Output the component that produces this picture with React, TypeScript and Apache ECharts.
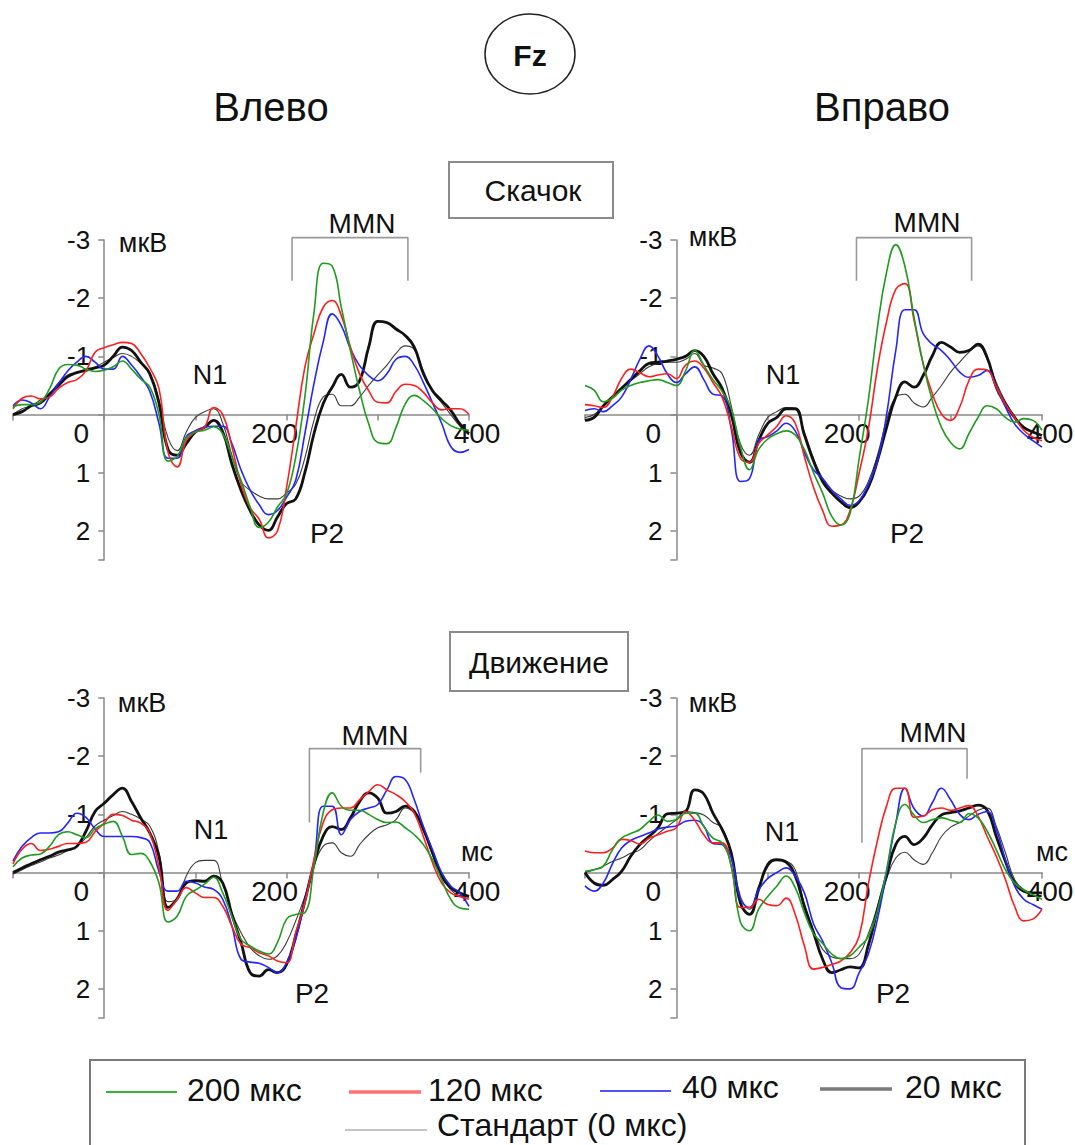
import React, { useEffect, useRef } from "react";
import * as echarts from "echarts";

// Time axis of the averaged ERPs, ms (every 10 ms)
const TIMES = [
  -100, -90, -80, -70, -60, -50, -40, -30, -20, -10,
  0, 10, 20, 30, 40, 50, 60, 70, 80, 90,
  100, 110, 120, 130, 140, 150, 160, 170, 180, 190,
  200, 210, 220, 230, 240, 250, 260, 270, 280, 290,
  300, 310, 320, 330, 340, 350, 360, 370, 380, 390,
  400,
];

const CONDITIONS = ["200 мкс", "120 мкс", "40 мкс", "20 мкс", "Стандарт (0 мкс)"];

// Скачок, Влево (µV)
const JUMP_LEFT_200 = [
  -0.13, -0.17, -0.17, -0.21, -0.44, -0.78, -0.86, -0.85, -0.78, -0.74,
  -0.76, -0.82, -0.92, -0.78, -0.61, -0.47, 0.0, 0.8, 0.72, 0.4,
  0.3, 0.27, 0.21, 0.33, 0.73, 1.13, 1.59, 1.94, 1.85, 1.59,
  1.36, 0.73, -0.3, -1.75, -2.6, -2.55, -1.84, -1.1, -0.41, 0.16,
  0.48, 0.5, 0.22, -0.18, -0.33, -0.24, -0.1, 0.07, 0.19, 0.25,
  0.27,
];
const JUMP_LEFT_120 = [
  -0.1, -0.28, -0.32, -0.27, -0.3, -0.45, -0.55, -0.6, -0.75, -1.07,
  -1.15, -1.2, -1.24, -1.22, -1.05, -0.8, -0.45, 0.65, 0.9, 0.45,
  0.3, 0.22, -0.12, 0.0, 0.55, 1.2, 1.6, 1.8, 2.12, 2.0,
  1.25, 0.22, -0.81, -1.39, -1.84, -1.96, -1.7, -1.16, -0.7, -0.41,
  -0.21, -0.2, -0.4, -0.52, -0.5, -0.38, -0.2, -0.08, -0.1, -0.1,
  0.0,
];
const JUMP_LEFT_40 = [
  -0.15, -0.25, -0.2, -0.1, -0.3, -0.53, -0.75, -0.9, -1.0, -0.9,
  -0.78, -0.78, -1.0, -0.85, -0.65, -0.4, 0.15, 0.75, 0.75, 0.38,
  0.28, 0.22, 0.2, 0.2, 0.5, 0.95, 1.3, 1.55, 1.72, 1.65,
  1.42, 1.13, 0.33, -0.53, -1.24, -1.73, -1.53, -1.13, -0.84, -0.67,
  -0.58, -0.7, -0.95, -1.0, -0.85, -0.55, -0.2, 0.15, 0.55, 0.65,
  0.6,
];
const JUMP_LEFT_20 = [
  0.0, -0.05, -0.15, -0.2, -0.35, -0.5, -0.65, -0.72, -0.76, -0.8,
  -0.85, -1.0, -1.16, -1.1, -0.9, -0.7, -0.2, 0.6, 0.7, 0.5,
  0.3, 0.22, 0.1, 0.3, 0.85, 1.3, 1.65, 1.9, 1.99, 1.76,
  1.53, 1.45, 1.0, 0.33, -0.18, -0.47, -0.69, -0.47, -0.58, -1.16,
  -1.6, -1.58, -1.47, -1.36, -1.16, -0.7, -0.41, -0.24, -0.07, 0.16,
  0.33,
];
const JUMP_LEFT_0 = [
  0.0, -0.1, -0.15, -0.25, -0.35, -0.55, -0.68, -0.72, -0.78, -0.82,
  -0.9, -0.98, -1.05, -1.0, -0.88, -0.72, -0.25, 0.4, 0.62, 0.3,
  0.05, -0.05, -0.1, 0.15, 0.7, 1.15, 1.3, 1.4, 1.45, 1.45,
  1.35, 1.2, 0.75, 0.1, -0.3, -0.35, -0.15, -0.15, -0.3, -0.5,
  -0.68, -0.85, -1.05, -1.18, -1.12, -0.75, -0.4, -0.2, 0.0, 0.2,
  0.35,
];

// Скачок, Вправо (µV)
const JUMP_RIGHT_200 = [
  -0.5, -0.42, -0.22, -0.28, -0.42, -0.5, -0.55, -0.58, -0.6, -0.55,
  -0.5, -0.75, -1.1, -0.85, -0.6, -0.4, -0.1, 0.55, 0.95, 0.6,
  0.42, 0.33, 0.28, 0.35, 0.6, 1.0, 1.35, 1.75, 1.9, 1.7,
  0.75, -0.25, -1.5, -2.45, -2.92, -2.55, -1.67, -0.87, -0.24, 0.22,
  0.48, 0.59, 0.33, 0.05, -0.15, -0.1, 0.05, 0.13, 0.07, 0.1,
  0.27,
];
const JUMP_RIGHT_120 = [
  -0.17, -0.15, -0.12, -0.3, -0.62, -0.78, -0.72, -0.65, -0.68, -0.7,
  -0.62, -0.85, -0.92, -0.8, -0.55, -0.3, 0.2, 0.75, 0.82, 0.5,
  0.35, 0.2, 0.02, 0.15, 0.72, 1.25, 1.65, 1.92, 1.9, 1.65,
  1.0, 0.25, -0.8, -1.6, -2.15, -2.25, -1.62, -0.87, -0.36, -0.01,
  0.1, -0.13, -0.58, -0.78, -0.76, -0.47, -0.18, 0.05, 0.27, 0.39,
  0.45,
];
const JUMP_RIGHT_40 = [
  -0.07, -0.1, -0.05, -0.15, -0.3, -0.6, -0.95, -1.18, -1.0, -0.7,
  -0.55, -0.7, -0.82, -0.6, -0.35, -0.32, 0.25, 1.15, 1.1, 0.45,
  0.38, 0.28, 0.15, 0.28, 0.65, 0.95, 1.1, 1.3, 1.45, 1.56,
  1.48, 1.2, 0.8, 0.0, -1.1, -1.8, -1.8, -1.39, -1.21, -1.1,
  -0.93, -0.73, -0.64, -0.67, -0.76, -0.47, -0.13, 0.16, 0.33, 0.45,
  0.56,
];
const JUMP_RIGHT_20 = [
  0.1, 0.05, -0.15, -0.3, -0.45, -0.6, -0.75, -0.88, -0.9, -0.92,
  -0.95, -1.0, -1.1, -1.0, -0.7, -0.45, 0.0, 0.65, 0.82, 0.45,
  0.15, 0.05, -0.1, -0.1, 0.35, 0.8, 1.15, 1.35, 1.5, 1.6,
  1.5, 1.25, 0.79, 0.22, -0.3, -0.56, -0.47, -0.67, -1.01, -1.24,
  -1.16, -1.07, -1.1, -1.21, -0.98, -0.47, -0.18, 0.05, 0.22, 0.3,
  0.36,
];
const JUMP_RIGHT_0 = [
  0.05, 0.0, -0.15, -0.3, -0.45, -0.58, -0.7, -0.82, -0.88, -0.9,
  -0.9, -0.95, -1.05, -0.85, -0.8, -0.7, -0.15, 0.5, 0.7, 0.35,
  0.05, -0.05, -0.12, -0.1, 0.3, 0.75, 1.1, 1.3, 1.4, 1.45,
  1.4, 1.15, 0.7, 0.1, -0.3, -0.35, -0.2, -0.13, -0.3, -0.5,
  -0.73, -0.9, -1.07, -1.18, -0.95, -0.55, -0.22, 0.03, 0.22, 0.3,
  0.35,
];

// Движение, Влево (µV)
const MOVE_LEFT_200 = [
  -0.1, -0.25, -0.3, -0.32, -0.45, -0.65, -0.7, -0.65, -0.6, -0.75,
  -0.83, -0.88, -0.62, -0.31, -0.33, -0.19, 0.18, 0.85, 0.75, 0.41,
  0.3, 0.2, 0.08, 0.35, 0.75, 1.15, 1.26, 1.35, 1.4, 1.2,
  0.8, 0.72, 0.69, -0.1, -1.02, -1.37, -1.14, -1.07, -1.07, -1.0,
  -0.91, -0.86, -0.87, -0.77, -0.65, -0.48, -0.22, 0.12, 0.46, 0.61,
  0.63,
];
const MOVE_LEFT_120 = [
  -0.15, -0.4, -0.5, -0.38, -0.4, -0.45, -0.5, -0.5, -0.52, -0.7,
  -0.85, -1.0, -0.98, -0.9, -0.85, -0.68, -0.1, 0.65, 0.46, 0.26,
  0.35, 0.43, 0.43, 0.58, 0.92, 1.23, 1.29, 1.38, 1.43, 1.52,
  1.55, 1.03, 0.52, -0.22, -0.85, -1.08, -1.11, -1.11, -1.25, -1.39,
  -1.51, -1.42, -1.34, -1.22, -1.02, -0.62, -0.17, 0.18, 0.35, 0.41,
  0.46,
];
const MOVE_LEFT_40 = [
  -0.2, -0.45, -0.6, -0.68, -0.68, -0.7, -0.85, -1.02, -0.95, -0.75,
  -0.62, -0.62, -0.62, -0.62, -0.6, -0.52, -0.02, 0.32, 0.32, 0.15,
  0.18, 0.25, 0.29, 0.46, 0.92, 1.49, 1.54, 1.56, 1.63, 1.72,
  1.55, 1.15, 0.49, -0.19, -1.14, -1.14, -0.65, -0.91, -1.05, -1.11,
  -1.17, -1.42, -1.65, -1.6, -1.25, -0.79, -0.39, 0.0, 0.23, 0.35,
  0.58,
];
const MOVE_LEFT_20 = [
  0.0, -0.08, -0.15, -0.22, -0.28, -0.35, -0.39, -0.45, -0.71, -1.05,
  -1.19, -1.34, -1.45, -1.22, -0.94, -0.68, -0.28, 0.6, 0.45, 0.18,
  0.14, 0.15, 0.06, 0.18, 0.72, 1.2, 1.72, 1.78, 1.67, 1.72,
  1.58, 1.09, 0.49, -0.14, -0.62, -0.79, -0.74, -0.94, -1.22, -1.37,
  -1.28, -1.02, -1.05, -1.14, -1.05, -0.74, -0.34, 0.06, 0.26, 0.35,
  0.41,
];
const MOVE_LEFT_0 = [
  0.03, -0.05, -0.12, -0.18, -0.25, -0.3, -0.38, -0.45, -0.6, -0.8,
  -0.9, -0.98, -1.05, -1.0, -0.92, -0.8, -0.35, 0.5, 0.45, 0.06,
  -0.17, -0.21, -0.21, 0.2, 0.69, 1.03, 1.29, 1.43, 1.49, 1.43,
  1.2, 0.83, 0.41, -0.11, -0.45, -0.51, -0.34, -0.28, -0.48, -0.65,
  -0.77, -0.82, -0.91, -1.11, -1.02, -0.75, -0.3, 0.05, 0.3, 0.4,
  0.42,
];

// Движение, Вправо (µV)
const MOVE_RIGHT_200 = [
  -0.02, -0.05, -0.11, -0.39, -0.59, -0.67, -0.74, -0.88, -0.99, -0.88,
  -0.91, -1.02, -1.02, -0.79, -0.59, -0.51, -0.11, 0.85, 1.0, 0.63,
  0.41, 0.23, 0.06, 0.26, 0.69, 1.05, 1.22, 1.4, 1.48, 1.43,
  1.28, 1.1, 0.65, -0.05, -0.85, -1.17, -0.99, -0.86, -0.91, -0.94,
  -0.9, -0.86, -1.01, -0.94, -0.71, -0.39, -0.05, 0.18, 0.3, 0.38,
  0.46,
];
const MOVE_RIGHT_120 = [
  -0.37, -0.34, -0.34, -0.42, -0.57, -0.55, -0.49, -0.59, -0.65, -0.71,
  -0.77, -1.05, -0.9, -0.65, -0.51, -0.51, -0.11, 0.6, 0.6, 0.46,
  0.55, 0.57, 0.44, 0.72, 1.26, 1.66, 1.63, 1.58, 1.52, 1.38,
  1.09, 0.2, -0.55, -1.15, -1.45, -1.45, -0.95, -0.97, -1.08, -1.11,
  -1.07, -1.11, -1.15, -0.97, -0.62, -0.28, 0.12, 0.58, 0.83, 0.8,
  0.63,
];
const MOVE_RIGHT_40 = [
  0.23, 0.32, 0.18, -0.15, -0.42, -0.55, -0.62, -0.68, -0.75, -0.78,
  -0.8, -0.88, -0.9, -0.8, -0.5, -0.48, -0.25, 0.45, 0.6, 0.3,
  0.1, 0.0, -0.08, 0.06, 0.35, 0.88, 1.18, 1.55, 1.98, 2.0,
  1.72, 1.4, 0.8, 0.0, -0.85, -1.45, -1.1, -0.97, -1.2, -1.45,
  -1.25, -1.0, -0.91, -1.0, -1.05, -0.74, -0.22, 0.23, 0.46, 0.55,
  0.63,
];
const MOVE_RIGHT_20 = [
  0.0, 0.18, 0.22, 0.12, -0.02, -0.28, -0.48, -0.62, -0.77, -1.01,
  -1.02, -1.05, -1.42, -1.35, -1.02, -0.74, -0.34, 0.52, 0.72, 0.29,
  -0.14, -0.22, -0.18, 0.06, 0.58, 1.03, 1.49, 1.72, 1.67, 1.62,
  1.64, 1.25, 0.63, 0.05, -0.48, -0.62, -0.48, -0.59, -0.82, -0.99,
  -1.03, -1.06, -1.11, -1.16, -1.07, -0.62, -0.19, 0.18, 0.32, 0.35,
  0.35,
];
const MOVE_RIGHT_0 = [
  0.0, -0.05, -0.11, -0.19, -0.25, -0.33, -0.39, -0.54, -0.67, -0.79,
  -0.91, -1.05, -1.03, -0.99, -0.86, -0.77, -0.34, 0.41, 0.63, 0.23,
  -0.1, -0.22, -0.2, -0.05, 0.55, 1.0, 1.32, 1.45, 1.48, 1.48,
  1.4, 1.05, 0.6, 0.1, -0.25, -0.35, -0.22, -0.14, -0.34, -0.62,
  -0.78, -0.86, -0.97, -1.07, -1.11, -0.79, -0.34, 0.12, 0.29, 0.35,
  0.35,
];

// MMN analysis windows: [ms, µV] corners of each bracket
const MMN_JUMP_LEFT = [[206, -2.3], [206, -3.04], [333, -3.04], [333, -2.3]];
const MMN_JUMP_RIGHT = [[197, -2.3], [197, -3.04], [323, -3.04], [323, -2.3]];
const MMN_MOVE_LEFT = [[225, -0.86], [225, -2.13], [347, -2.13], [347, -1.72]];
const MMN_MOVE_RIGHT = [[203, -0.51], [203, -2.13], [318, -2.13], [318, -1.61]];

const T_MIN = -100;
const T_MAX = 400;
const V_MIN = -3;
const V_MAX = 2.5;

const FONT = '"Liberation Sans", Arial, Helvetica, sans-serif';
const INK = "#111111";
const AXIS_GREY = "#8a8a8a";

const LINE_STYLES = [
  { color: "#1f9b1f", width: 1.6 },
  { color: "#ff1e1e", width: 1.6 },
  { color: "#2424ff", width: 1.6 },
  { color: "#111111", width: 2.8 },
  { color: "#3a3a3a", width: 1.1 },
];

const PANELS = [
  {
    grid: { left: 13, top: 240, width: 456, height: 320 },
    curves: [JUMP_LEFT_200, JUMP_LEFT_120, JUMP_LEFT_40, JUMP_LEFT_20, JUMP_LEFT_0],
    mmn: MMN_JUMP_LEFT,
  },
  {
    grid: { left: 585, top: 240, width: 457, height: 320 },
    curves: [JUMP_RIGHT_200, JUMP_RIGHT_120, JUMP_RIGHT_40, JUMP_RIGHT_20, JUMP_RIGHT_0],
    mmn: MMN_JUMP_RIGHT,
  },
  {
    grid: { left: 13, top: 698, width: 456, height: 320 },
    curves: [MOVE_LEFT_200, MOVE_LEFT_120, MOVE_LEFT_40, MOVE_LEFT_20, MOVE_LEFT_0],
    mmn: MMN_MOVE_LEFT,
  },
  {
    grid: { left: 585, top: 698, width: 457, height: 320 },
    curves: [MOVE_RIGHT_200, MOVE_RIGHT_120, MOVE_RIGHT_40, MOVE_RIGHT_20, MOVE_RIGHT_0],
    mmn: MMN_MOVE_RIGHT,
  },
];

// Component labels placed beside each panel
const PANEL_NOTES = [
  { unit: [143, 243], n1: [210, 375], p2: [327, 533], mmn: [362, 223], ms: null },
  { unit: [713, 237], n1: [783, 375], p2: [907, 533], mmn: [927, 222], ms: null },
  { unit: [142, 703], n1: [211, 830], p2: [312, 993], mmn: [375, 735], ms: [477, 852] },
  { unit: [713, 703], n1: [782, 832], p2: [893, 993], mmn: [933, 732], ms: [1052, 852] },
];

const LEGEND_ITEMS = [
  { x1: 106, x2: 177, y: 1092, tx: 187, ty: 1090, stroke: "#36b336", w: 2 },
  { x1: 349, x2: 421, y: 1092, tx: 428, ty: 1090, stroke: "#ff7070", w: 3.5 },
  { x1: 600, x2: 671, y: 1091, tx: 682, ty: 1087, stroke: "#5050ff", w: 2.2 },
  { x1: 820, x2: 892, y: 1089, tx: 905, ty: 1087, stroke: "#7a7a7a", w: 3.5 },
  { x1: 345, x2: 427, y: 1130, tx: 437, ty: 1125, stroke: "#c4c4c4", w: 2.2 },
];

function text(x: number, y: number, t: string, size: number, extra: any = {}) {
  return {
    type: "text",
    x,
    y,
    silent: true,
    style: {
      text: t,
      fontSize: size,
      fontFamily: FONT,
      fill: INK,
      align: "center",
      verticalAlign: "middle",
      ...extra,
    },
  };
}

function buildOption() {
  const grids: any[] = [];
  const xAxes: any[] = [];
  const yAxes: any[] = [];
  const series: any[] = [];
  const graphics: any[] = [];

  PANELS.forEach((panel, i) => {
    const g = panel.grid;
    grids.push({ ...g, containLabel: false, outerBoundsMode: "none" });

    // axes cross at (0 ms, 0 µV): shift them into the plot area
    const yAxisShift = ((0 - T_MIN) / (T_MAX - T_MIN)) * g.width;
    const xAxisShift = ((V_MAX - 0) / (V_MAX - V_MIN)) * g.height;

    xAxes.push({
      gridIndex: i,
      type: "value",
      position: "bottom",
      offset: -xAxisShift,
      min: T_MIN,
      max: T_MAX,
      interval: 100,
      axisLine: { show: true, onZero: false, lineStyle: { color: AXIS_GREY, width: 1.5 } },
      axisTick: { show: true, length: 6, lineStyle: { color: AXIS_GREY, width: 1.5 } },
      splitLine: { show: false },
      axisLabel: {
        margin: 5,
        showMinLabel: true,
        showMaxLabel: true,
        formatter: (v: number) =>
          v === 0 ? "{l|0}" : v === 200 ? "{m|200}" : v === 400 ? "{r|400}" : "",
        rich: {
          l: { fontSize: 28, fontFamily: FONT, color: INK, padding: [0, 46, 0, 0] },
          m: { fontSize: 28, fontFamily: FONT, color: INK, padding: [0, 24, 0, 0] },
          r: { fontSize: 28, fontFamily: FONT, color: INK, padding: [0, 0, 0, 16] },
        },
      },
    });

    yAxes.push({
      gridIndex: i,
      type: "value",
      position: "left",
      offset: -yAxisShift,
      inverse: true,
      min: V_MIN,
      max: V_MAX,
      interval: 1,
      axisLine: { show: true, onZero: false, lineStyle: { color: AXIS_GREY, width: 1.5 } },
      axisTick: { show: true, length: 6, lineStyle: { color: AXIS_GREY, width: 1.5 } },
      splitLine: { show: false },
      axisLabel: {
        margin: 14,
        fontSize: 26,
        fontFamily: FONT,
        color: INK,
        padding: [8, 0, 0, 0],
        formatter: (v: number) => (v === 0 || !Number.isInteger(v) ? "" : String(v)),
      },
    });

    // standard first so the deviant responses sit on top
    [4, 3, 2, 1, 0].forEach((c) => {
      const values = panel.curves[c];
      series.push({
        type: "line",
        name: CONDITIONS[c],
        xAxisIndex: i,
        yAxisIndex: i,
        data: TIMES.map((t, k) => [t, values[k]]),
        smooth: 0.45,
        symbol: "none",
        showSymbol: false,
        silent: true,
        lineStyle: { color: LINE_STYLES[c].color, width: LINE_STYLES[c].width },
        itemStyle: { color: LINE_STYLES[c].color },
        z: 3,
      });
    });

    series.push({
      type: "line",
      name: "MMN",
      xAxisIndex: i,
      yAxisIndex: i,
      data: panel.mmn,
      symbol: "none",
      showSymbol: false,
      clip: false,
      silent: true,
      lineStyle: { color: "#9a9a9a", width: 1.6 },
      z: 2,
    });

    const note = PANEL_NOTES[i];
    graphics.push(text(note.unit[0], note.unit[1], "мкВ", 27));
    graphics.push(text(note.n1[0], note.n1[1], "N1", 27));
    graphics.push(text(note.p2[0], note.p2[1], "P2", 28));
    graphics.push(text(note.mmn[0], note.mmn[1], "MMN", 28));
    if (note.ms) graphics.push(text(note.ms[0], note.ms[1], "мс", 27));
  });

  // header: electrode, sides, condition boxes
  graphics.push({
    type: "ellipse",
    silent: true,
    shape: { cx: 530, cy: 54, rx: 45, ry: 40 },
    style: { fill: "#ffffff", stroke: "#222222", lineWidth: 1.5 },
  });
  graphics.push(text(530, 55, "Fz", 30, { fontWeight: "bold" }));
  graphics.push(text(271, 107, "Влево", 40));
  graphics.push(text(882, 107, "Вправо", 40));

  graphics.push({
    type: "rect",
    silent: true,
    shape: { x: 449, y: 162, width: 164, height: 56 },
    style: { fill: "none", stroke: "#8a8a8a", lineWidth: 2 },
  });
  graphics.push(text(533, 190, "Скачок", 30));
  graphics.push({
    type: "rect",
    silent: true,
    shape: { x: 450, y: 632, width: 178, height: 59 },
    style: { fill: "none", stroke: "#8a8a8a", lineWidth: 2 },
  });
  graphics.push(text(539, 662, "Движение", 30));

  // legend
  graphics.push({
    type: "rect",
    silent: true,
    shape: { x: 90, y: 1060, width: 935, height: 110 },
    style: { fill: "none", stroke: "#7a7a7a", lineWidth: 2 },
  });
  LEGEND_ITEMS.forEach((it, c) => {
    graphics.push({
      type: "line",
      silent: true,
      shape: { x1: it.x1, y1: it.y, x2: it.x2, y2: it.y },
      style: { stroke: it.stroke, lineWidth: it.w },
    });
    graphics.push(text(it.tx, it.ty, CONDITIONS[c], 32, { align: "left" }));
  });

  return {
    animation: false,
    backgroundColor: "#ffffff",
    textStyle: { fontFamily: FONT },
    grid: grids,
    xAxis: xAxes,
    yAxis: yAxes,
    series,
    graphic: graphics,
  };
}

export default function App() {
  const ref = useRef<HTMLDivElement | null>(null);

  useEffect(() => {
    if (!ref.current) return;
    const chart = echarts.init(ref.current, undefined, { renderer: "svg" });
    chart.setOption(buildOption() as any);
    return () => chart.dispose();
  }, []);

  return (
    <div
      ref={ref}
      style={{ position: "absolute", left: 0, top: 0, width: 1075, height: 1145, background: "#fff" }}
    />
  );
}
